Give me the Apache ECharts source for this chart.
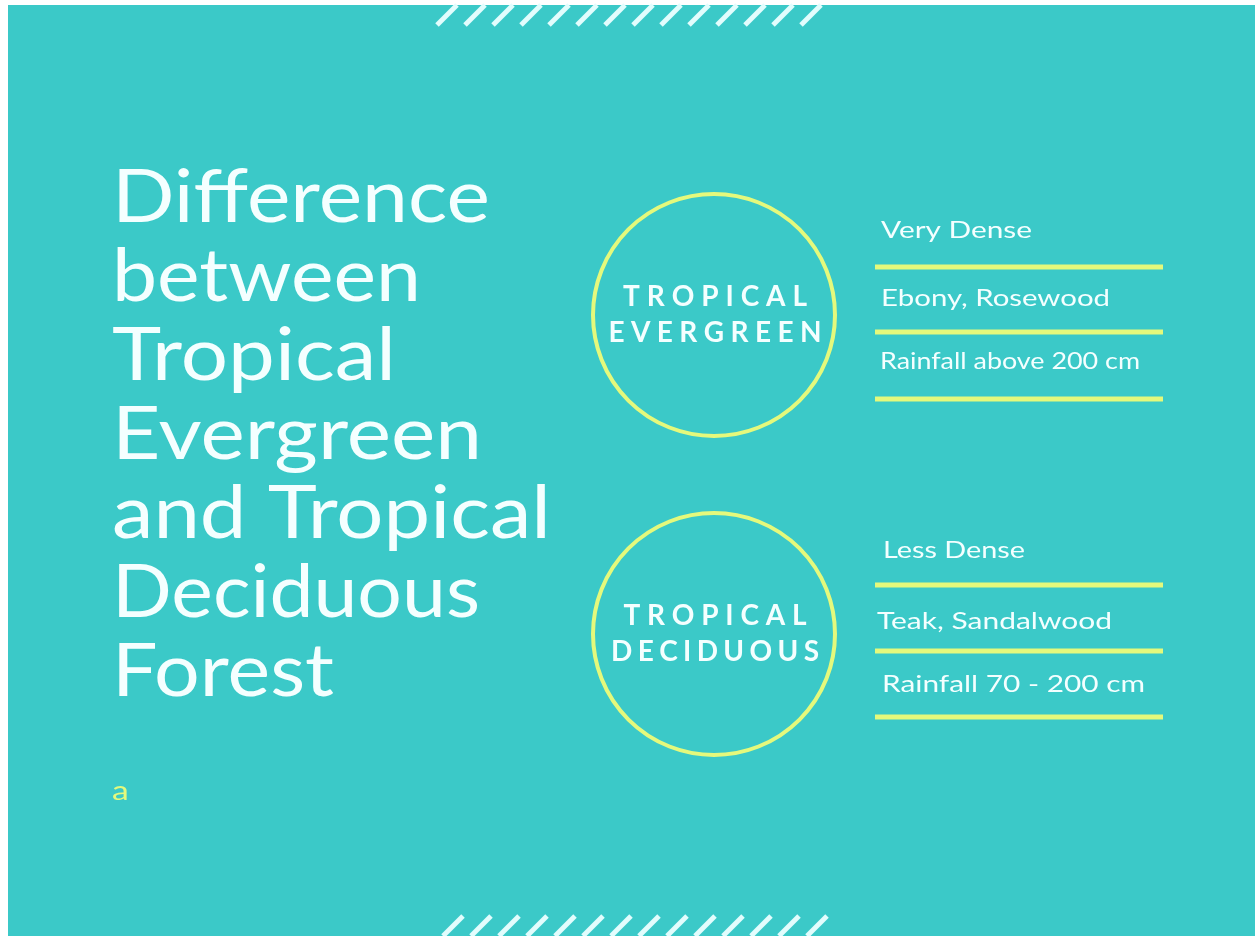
<!DOCTYPE html>
<html>
<head>
<meta charset="utf-8">
<script src="https://cdn.jsdelivr.net/npm/echarts@6/dist/echarts.min.js"></script>
<style>
  html, body { margin: 0; padding: 0; background: #ffffff; }
  #chart { width: 1255px; height: 936px; }
</style>
</head>
<body>
<div id="chart"></div>
<script>
// texts shown on the card
const titleLines = ['Difference', 'between', 'Tropical', 'Evergreen', 'and Tropical', 'Deciduous', 'Forest'];
const forestNames = [['TROPICAL', 'EVERGREEN'], ['TROPICAL', 'DECIDUOUS']];
const forestTraits = [
  ['Very Dense', 'Ebony, Rosewood', 'Rainfall above 200 cm'],
  ['Less Dense', 'Teak, Sandalwood', 'Rainfall 70 - 200 cm']
];
const stripeCount = 14;

const TEAL = '#3bc9c8';
const LIME = '#e4f97c';
const WHITE = '#f4ffff';
const FONT = 'Lato';

// widths the lines take on the card
const titleWidth = [378, 309, 284, 370, 439, 368, 222];
const nameWidth = [[184, 213], [183, 208]];
const traitWidth = [[151, 229, 260], [142, 235, 263]];

const ctx = document.createElement('canvas').getContext('2d');
function textWidth(t, font) {
  ctx.font = font;
  return ctx.measureText(t).width;
}

const chart = echarts.init(document.getElementById('chart'));
const elements = [];

// background card
elements.push({
  type: 'rect',
  shape: { x: 8, y: 5, width: 1247, height: 931 },
  style: { fill: TEAL },
  silent: true
});

// stripes top and bottom
for (let i = 0; i < stripeCount; i++) {
  const x0 = 437 + i * 28;
  elements.push({
    type: 'line',
    shape: { x1: x0, y1: 25, x2: x0 + 20, y2: 5 },
    style: { stroke: '#e2fdfd', lineWidth: 5, lineCap: 'butt' }
  });
  const x1 = 443 + i * 28;
  elements.push({
    type: 'line',
    shape: { x1: x1, y1: 936, x2: x1 + 20, y2: 916 },
    style: { stroke: '#e2fdfd', lineWidth: 5, lineCap: 'butt' }
  });
}

// title
const titleFont = '400 73px ' + FONT;
titleLines.forEach((t, i) => {
  elements.push({
    type: 'text',
    x: 112,
    y: 198 + i * 79,
    scaleX: titleWidth[i] / textWidth(t, titleFont),
    style: {
      text: t,
      fill: WHITE,
      font: titleFont,
      textVerticalAlign: 'middle'
    }
  });
});

// small "a" note
elements.push({
  type: 'text',
  x: 112,
  y: 791,
  scaleX: 1.25,
  style: { text: 'a', fill: LIME, font: '400 27px ' + FONT, textVerticalAlign: 'middle' }
});

// circles with names and traits
const circleY = [315, 634];
const lineYs = [[267, 332, 399], [585, 651, 717]];
const traitY = [[231, 299, 362], [551, 622, 685]];
const traitX = [[881, 881, 880], [883, 877, 882]];
const nameFont = 'bold 28px ' + FONT;
const traitFont = '400 23px ' + FONT;

forestNames.forEach((names, k) => {
  elements.push({
    type: 'circle',
    shape: { cx: 714, cy: circleY[k], r: 121 },
    style: { fill: 'none', stroke: LIME, lineWidth: 4 }
  });
  names.forEach((n, j) => {
    // letter-spaced caps, laid out one letter at a time
    const chars = n.split('');
    const widths = chars.map((c) => textWidth(c, nameFont));
    const sum = widths.reduce((a, b) => a + b, 0);
    const gap = (nameWidth[k][j] - sum) / (chars.length - 1);
    let x = 715 - nameWidth[k][j] / 2;
    chars.forEach((c, ci) => {
      elements.push({
        type: 'text',
        x: x,
        y: circleY[k] - 18 + j * 36,
        style: {
          text: c,
          fill: WHITE,
          font: nameFont,
          textVerticalAlign: 'middle'
        }
      });
      x += widths[ci] + gap;
    });
  });
  lineYs[k].forEach((ly) => {
    elements.push({
      type: 'line',
      shape: { x1: 875, y1: ly, x2: 1163, y2: ly },
      style: { stroke: LIME, lineWidth: 5 }
    });
  });
  forestTraits[k].forEach((t, j) => {
    elements.push({
      type: 'text',
      x: traitX[k][j],
      y: traitY[k][j],
      scaleX: traitWidth[k][j] / textWidth(t, traitFont),
      style: {
        text: t,
        fill: WHITE,
        font: traitFont,
        textVerticalAlign: 'middle'
      }
    });
  });
});

chart.setOption({
  backgroundColor: '#ffffff',
  animation: false,
  graphic: { elements: elements }
});
</script>
</body>
</html>
